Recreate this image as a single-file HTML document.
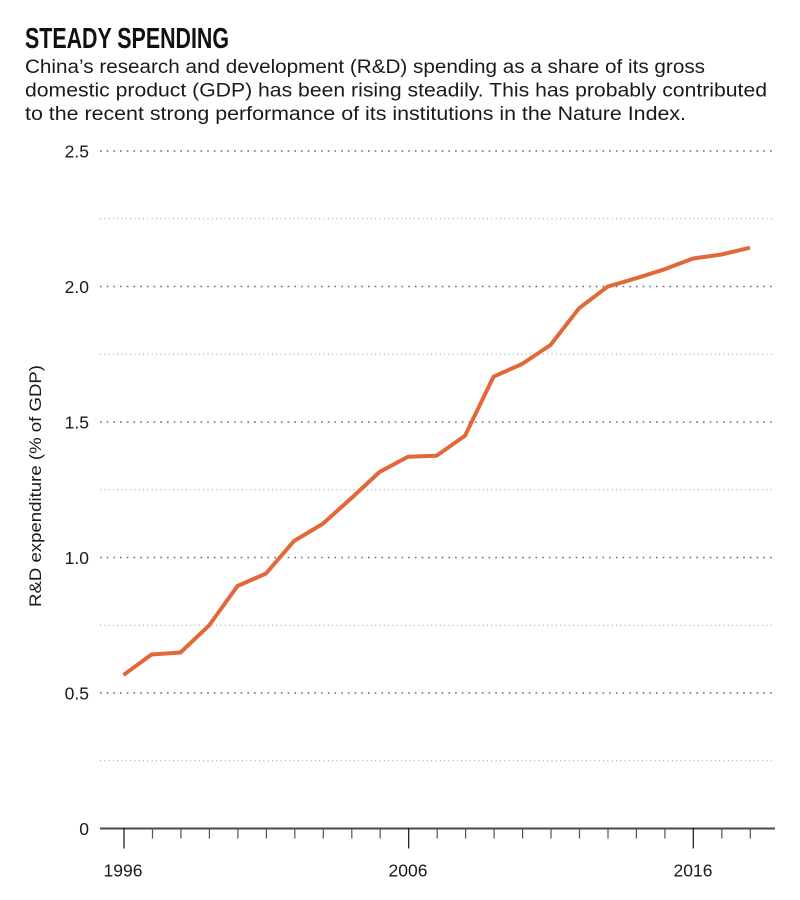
<!DOCTYPE html>
<html>
<head>
<meta charset="utf-8">
<style>
  html, body { margin:0; padding:0; background:#fff; }
  svg { display:block; }
  text { font-family: "Liberation Sans", "DejaVu Sans", sans-serif; fill:#1a1a1a; }
</style>
</head>
<body>
<svg width="800" height="900" viewBox="0 0 800 900" xmlns="http://www.w3.org/2000/svg">
  <!-- Title -->
  <text x="25" y="48" font-size="29" font-weight="bold" textLength="204" lengthAdjust="spacingAndGlyphs" style="fill:#111">STEADY SPENDING</text>
  <!-- Subtitle -->
  <text x="25" y="73" font-size="19" textLength="680" lengthAdjust="spacingAndGlyphs">China’s research and development (R&amp;D) spending as a share of its gross</text>
  <text x="25" y="96.5" font-size="19" textLength="742" lengthAdjust="spacingAndGlyphs">domestic product (GDP) has been rising steadily. This has probably contributed</text>
  <text x="25" y="120" font-size="19" textLength="661" lengthAdjust="spacingAndGlyphs">to the recent strong performance of its institutions in the Nature Index.</text>

  <!-- Minor gridlines -->
  <g stroke="#9a9a9a" stroke-width="1" stroke-dasharray="1 3.3">
    <line x1="100" x2="775" y1="218.75" y2="218.75"/>
    <line x1="100" x2="775" y1="354.25" y2="354.25"/>
    <line x1="100" x2="775" y1="489.75" y2="489.75"/>
    <line x1="100" x2="775" y1="625.25" y2="625.25"/>
    <line x1="100" x2="775" y1="760.75" y2="760.75"/>
  </g>
  <!-- Major gridlines -->
  <g stroke="#6a6a6a" stroke-width="1.6" stroke-dasharray="1.6 5.1">
    <line x1="100" x2="775" y1="151" y2="151"/>
    <line x1="100" x2="775" y1="286.5" y2="286.5"/>
    <line x1="100" x2="775" y1="422" y2="422"/>
    <line x1="100" x2="775" y1="557.5" y2="557.5"/>
    <line x1="100" x2="775" y1="693" y2="693"/>
  </g>

  <!-- Y labels -->
  <g font-size="17.5" text-anchor="end">
    <text x="89" y="157.5">2.5</text>
    <text x="89" y="293">2.0</text>
    <text x="89" y="428.5">1.5</text>
    <text x="89" y="564">1.0</text>
    <text x="89" y="699.5">0.5</text>
    <text x="89" y="835">0</text>
  </g>

  <!-- Y axis title -->
  <text transform="translate(41,486) rotate(-90)" font-size="16.5" text-anchor="middle" textLength="242" lengthAdjust="spacingAndGlyphs">R&amp;D expenditure (% of GDP)</text>

  <!-- X axis -->
  <line x1="100" x2="775" y1="828.5" y2="828.5" stroke="#4a4a4a" stroke-width="2"/>
  <g stroke="#555" stroke-width="1.2">
    <line x1="152.5" x2="152.5" y1="828" y2="838.5"/>
    <line x1="180.9" x2="180.9" y1="828" y2="838.5"/>
    <line x1="209.4" x2="209.4" y1="828" y2="838.5"/>
    <line x1="237.9" x2="237.9" y1="828" y2="838.5"/>
    <line x1="266.4" x2="266.4" y1="828" y2="838.5"/>
    <line x1="294.8" x2="294.8" y1="828" y2="838.5"/>
    <line x1="323.3" x2="323.3" y1="828" y2="838.5"/>
    <line x1="351.8" x2="351.8" y1="828" y2="838.5"/>
    <line x1="380.2" x2="380.2" y1="828" y2="838.5"/>
    <line x1="437.2" x2="437.2" y1="828" y2="838.5"/>
    <line x1="465.6" x2="465.6" y1="828" y2="838.5"/>
    <line x1="494.1" x2="494.1" y1="828" y2="838.5"/>
    <line x1="522.6" x2="522.6" y1="828" y2="838.5"/>
    <line x1="551.0" x2="551.0" y1="828" y2="838.5"/>
    <line x1="579.5" x2="579.5" y1="828" y2="838.5"/>
    <line x1="608.0" x2="608.0" y1="828" y2="838.5"/>
    <line x1="636.4" x2="636.4" y1="828" y2="838.5"/>
    <line x1="664.9" x2="664.9" y1="828" y2="838.5"/>
    <line x1="721.8" x2="721.8" y1="828" y2="838.5"/>
    <line x1="750.3" x2="750.3" y1="828" y2="838.5"/>
  </g>
  <g stroke="#111" stroke-width="1.2">
    <line x1="124" x2="124" y1="828" y2="848.5"/>
    <line x1="408.7" x2="408.7" y1="828" y2="848.5"/>
    <line x1="693.3" x2="693.3" y1="828" y2="848.5"/>
  </g>
  <g font-size="17.5" text-anchor="middle">
    <text x="123" y="876.5">1996</text>
    <text x="408" y="876.5">2006</text>
    <text x="693" y="876.5">2016</text>
  </g>

  <!-- Data line -->
  <polyline fill="none" stroke="#e2683a" stroke-width="4" stroke-linejoin="round" stroke-linecap="butt"
    points="123.5,675 151.5,654.5 180.5,652.5 209,625.5 237.5,586 266,573.5 294,541 322.5,524 351,498.5 379.5,472 408,456.7 436.5,455.7 465,435.7 493.5,376.7 522,364 550.5,345 579,308.3 607.5,286.7 636,278.3 664.5,269.3 693,258.5 721.5,254.5 750,247.7"/>
</svg>
</body>
</html>
